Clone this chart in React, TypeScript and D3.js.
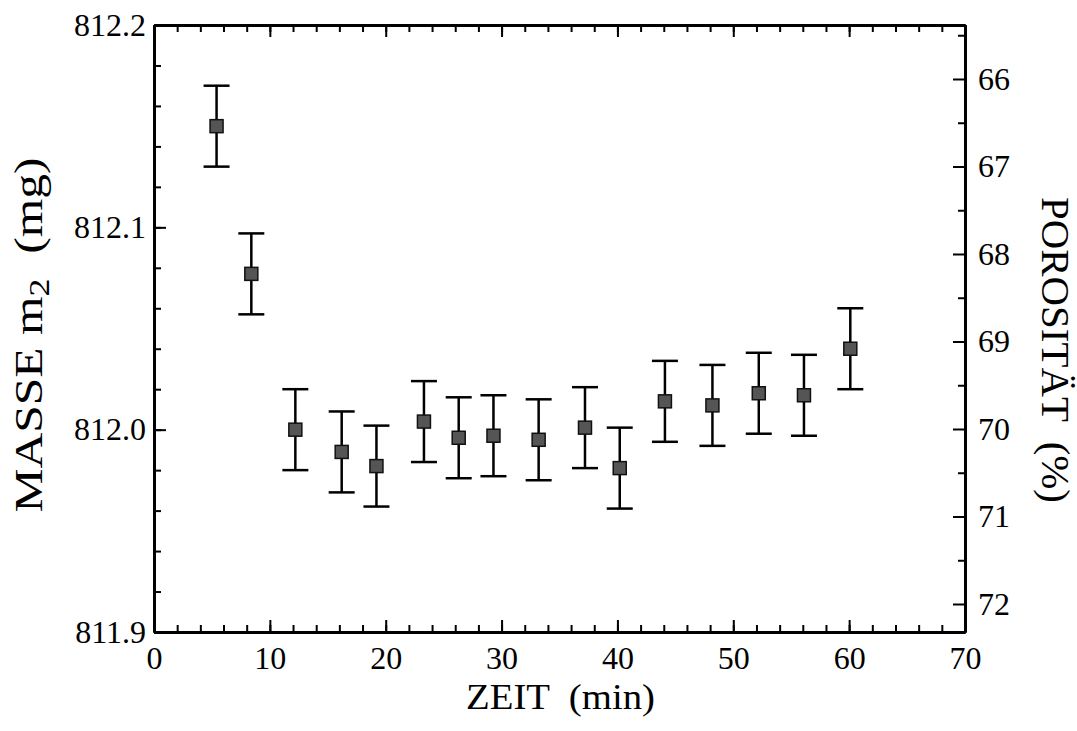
import React, { useEffect, useRef } from 'react';
import * as d3 from 'd3';

const zeit = [5.4, 8.4, 12.2, 16.2, 19.2, 23.3, 26.3, 29.3, 33.2, 37.2, 40.2, 44.1, 48.2, 52.2, 56.1, 60.1];
const masse = [812.15, 812.077, 812.0, 811.989, 811.982, 812.004, 811.996, 811.997, 811.995, 812.001, 811.981, 812.014, 812.012, 812.018, 812.017, 812.04];
const fehler = [0.02, 0.02, 0.02, 0.02, 0.02, 0.02, 0.02, 0.02, 0.02, 0.02, 0.02, 0.02, 0.02, 0.02, 0.02, 0.02];

const xTicks = [0, 10, 20, 30, 40, 50, 60, 70];
const xMinor = d3.range(0, 70.01, 2);
const massTicks = [811.9, 812.0, 812.1, 812.2];
const massMinor = d3.range(811.9, 812.201, 0.02);
const porosTicks = [66, 67, 68, 69, 70, 71, 72];
const porosMinor = [65.5, 66.5, 67.5, 68.5, 69.5, 70.5, 71.5];

const W = 1077;
const H = 731;
const left = 154;
const right = 965;
const top = 25;
const bottom = 632;

const App = () => {
  const svgRef = useRef<SVGSVGElement>(null);

  useEffect(() => {
    const svg = d3.select(svgRef.current);
    svg.selectAll('*').remove();

    const x = d3.scaleLinear().domain([0, 70]).range([left, right]);
    const y = d3.scaleLinear().domain([811.9, 812.2]).range([bottom, top]);
    const yR = d3.scaleLinear().domain([65.383, 72.32]).range([top, bottom]);

    const styleAxis = (g: any, size: number) => {
      g.attr('font-size', size);
      g.selectAll('.tick line').attr('stroke', '#000').attr('stroke-width', 2);
      g.selectAll('.domain').attr('stroke', '#000').attr('stroke-width', 3);
      g.selectAll('text').attr('fill', '#000');
    };

    // X-Achse unten
    const gx = svg.append('g').attr('transform', `translate(0,${bottom})`);
    gx.call(d3.axisBottom(x).tickValues(xTicks).tickSize(-12).tickSizeOuter(0).tickPadding(14).tickFormat(d3.format('d')));
    styleAxis(gx, 32);
    const gxm = svg.append('g').attr('transform', `translate(0,${bottom})`);
    gxm.call(d3.axisBottom(x).tickValues(xMinor).tickSize(-7).tickSizeOuter(0).tickFormat(() => ''));
    styleAxis(gxm, 32);

    // X-Achse oben
    const gt = svg.append('g').attr('transform', `translate(0,${top})`);
    gt.call(d3.axisTop(x).tickValues(xTicks).tickSize(-12).tickSizeOuter(0).tickFormat(() => ''));
    styleAxis(gt, 32);
    const gtm = svg.append('g').attr('transform', `translate(0,${top})`);
    gtm.call(d3.axisTop(x).tickValues(xMinor).tickSize(-7).tickSizeOuter(0).tickFormat(() => ''));
    styleAxis(gtm, 32);

    // Masse links
    const gy = svg.append('g').attr('transform', `translate(${left},0)`);
    gy.call(d3.axisLeft(y).tickValues(massTicks).tickSize(-12).tickSizeOuter(0).tickPadding(8).tickFormat(d3.format('.1f')));
    styleAxis(gy, 32);
    const gym = svg.append('g').attr('transform', `translate(${left},0)`);
    gym.call(d3.axisLeft(y).tickValues(massMinor).tickSize(-7).tickSizeOuter(0).tickFormat(() => ''));
    styleAxis(gym, 32);

    // Porositaet rechts
    const gr = svg.append('g').attr('transform', `translate(${right},0)`);
    gr.call(d3.axisRight(yR).tickValues(porosTicks).tickSize(-12).tickSizeOuter(0).tickPadding(13).tickFormat(d3.format('d')));
    styleAxis(gr, 32);
    const grm = svg.append('g').attr('transform', `translate(${right},0)`);
    grm.call(d3.axisRight(yR).tickValues(porosMinor).tickSize(-7).tickSizeOuter(0).tickFormat(() => ''));
    styleAxis(grm, 32);

    // Fehlerbalken
    const data = zeit.map((t, i) => ({ t, m: masse[i], e: fehler[i] }));
    const bars = svg.append('g').attr('stroke', '#000').attr('stroke-width', 2.5);
    bars.selectAll('.err')
      .data(data)
      .join('line')
      .attr('x1', (d) => x(d.t))
      .attr('x2', (d) => x(d.t))
      .attr('y1', (d) => y(d.m + d.e))
      .attr('y2', (d) => y(d.m - d.e));
    bars.selectAll('.capTop')
      .data(data)
      .join('line')
      .attr('x1', (d) => x(d.t) - 13)
      .attr('x2', (d) => x(d.t) + 13)
      .attr('y1', (d) => y(d.m + d.e))
      .attr('y2', (d) => y(d.m + d.e));
    bars.selectAll('.capBot')
      .data(data)
      .join('line')
      .attr('x1', (d) => x(d.t) - 13)
      .attr('x2', (d) => x(d.t) + 13)
      .attr('y1', (d) => y(d.m - d.e))
      .attr('y2', (d) => y(d.m - d.e));

    // Punkte
    svg.append('g')
      .selectAll('rect')
      .data(data)
      .join('rect')
      .attr('x', (d) => x(d.t) - 6.5)
      .attr('y', (d) => y(d.m) - 6.5)
      .attr('width', 13)
      .attr('height', 13)
      .attr('fill', '#555')
      .attr('stroke', '#111')
      .attr('stroke-width', 1.5);

    // Achsentitel (Glyphen breiter gezogen wie im Scan)
    svg.append('text')
      .attr('x', (left + right) / 2 + 1)
      .attr('y', 709)
      .attr('text-anchor', 'middle')
      .attr('font-size', 36)
      .attr('textLength', 189)
      .attr('lengthAdjust', 'spacingAndGlyphs')
      .style('white-space', 'pre')
      .text('ZEIT  (min)');

    const ly = svg.append('text')
      .attr('transform', 'translate(42,335) rotate(-90)')
      .attr('text-anchor', 'middle')
      .attr('font-size', 40)
      .attr('textLength', 355)
      .attr('lengthAdjust', 'spacingAndGlyphs')
      .style('white-space', 'pre');
    ly.append('tspan').text('MASSE m');
    ly.append('tspan').attr('font-size', 29).attr('baseline-shift', '-25%').text('2');
    ly.append('tspan').text('  (mg)');

    svg.append('text')
      .attr('transform', 'translate(1042,350) rotate(90)')
      .attr('text-anchor', 'middle')
      .attr('font-size', 39)
      .attr('textLength', 306)
      .attr('lengthAdjust', 'spacingAndGlyphs')
      .style('white-space', 'pre')
      .text('POROSITÄT  (%)');

    svg.selectAll('g').attr('font-family', 'Times New Roman');
    svg.selectAll('text').attr('font-family', 'Times New Roman');
  }, []);

  return (
    <div style={{ position: 'absolute', left: 0, top: 0 }}>
      <svg
        ref={svgRef}
        width={W}
        height={H}
        fontFamily="Times New Roman"
        style={{ display: 'block', background: '#fff' }}
      />
    </div>
  );
};

export default App;
